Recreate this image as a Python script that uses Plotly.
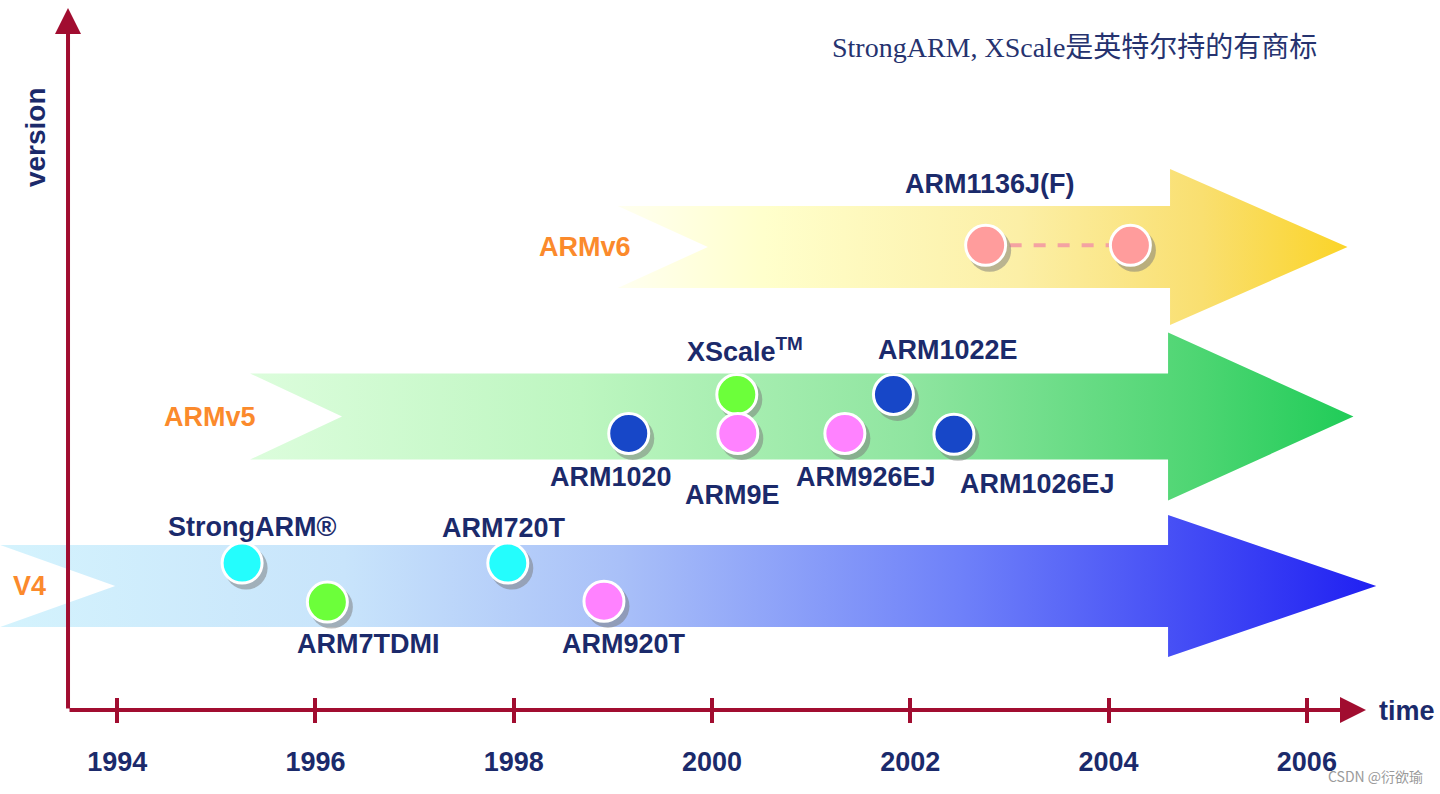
import plotly.graph_objects as go

# ---------------- data ----------------
year_ticks = [1994, 1996, 1998, 2000, 2002, 2004, 2006]
tick_labels = ["1994", "1996", "1998", "2000", "2002", "2004", "2006"]

lane_names = ["V4", "ARMv5", "ARMv6"]
lane_version = [1.0, 2.0, 3.0]
lane_start_year = [1992.82, 1995.34, 1999.05]
lane_body_end_year = [2004.60, 2004.60, 2004.62]
lane_tip_year = [2006.70, 2006.47, 2006.41]

chip_names = ["StrongARM®", "ARM7TDMI", "ARM720T", "ARM920T",
              "ARM1020", "XScale™", "ARM9E", "ARM926EJ", "ARM1022E", "ARM1026EJ",
              "ARM1136J(F)", "ARM1136J(F)"]
chip_year = [1995.26, 1996.12, 1997.94, 1998.91,
             1999.16, 2000.25, 2000.26, 2001.34, 2001.83, 2002.44,
             2002.76, 2004.22]
chip_version = [1.135, 0.905, 1.135, 0.91,
                1.90, 2.13, 1.90, 1.90, 2.13, 1.895,
                3.01, 3.01]
chip_kind = ["cyan", "green", "cyan", "pink",
             "blue", "green", "pink", "pink", "blue", "blue",
             "salmon", "salmon"]

# ---------------- styles ----------------
PX_PER_YEAR = 99.14
PX_PER_VER = 169.5
X_RANGE = [1992.818, 2007.343]
Y_RANGE = [1 + (586 - 794) / PX_PER_VER, 1 + 586 / PX_PER_VER]

NAVY = "#1b2a6b"
AXIS_RED = "#a10d30"
ORANGE = "#fb8a2c"
SANS = "Liberation Sans, Arial, sans-serif"

chip_colors = {"cyan": "#24fdfd", "green": "#6cff3a", "pink": "#ff82ff",
               "blue": "#1747c8", "salmon": "#ff9c9c"}

# arrow geometry (pixels)
shaft_half_px = [41, 43, 41]
head_half_px = [71, 84, 78]
notch_px = [115, 92, 90]
lane_colorscales = [
    [[0, "#d4f3fd"], [0.25, "#c8e4fb"], [0.45, "#a9c0f8"], [0.7, "#6e80f9"], [1, "#2020f2"]],
    [[0, "#dcfddc"], [0.3, "#bdf6c0"], [0.6, "#8fe5a0"], [0.85, "#50d674"], [1, "#20cc58"]],
    [[0, "#fffff0"], [0.2, "#ffffcc"], [0.55, "#fcefa6"], [0.8, "#f9df70"], [1, "#fbd428"]],
]
lane_label_shift = [48, 8, 15]

# label offsets (pixels) per chip
label_shift = [(10, -36), (41, 42), (-4, -35), (20, 43),
               (-18, 44), (8, -44), (-5, 62), (21, 44), (55, -44), (84, 50),
               (4, -61), None]

fig = go.Figure()

# gradient arrows
for i, name in enumerate(lane_names):
    c = lane_version[i]
    h = shaft_half_px[i] / PX_PER_VER
    H = head_half_px[i] / PX_PER_VER
    t = lane_start_year[i]
    s = lane_body_end_year[i]
    p = lane_tip_year[i]
    n = t + notch_px[i] / PX_PER_YEAR
    xs = [t, s, s, p, s, s, t, n, t]
    ys = [c + h, c + h, c + H, c, c - H, c - h, c - h, c, c + h]
    fig.add_trace(go.Scatter(
        x=xs, y=ys, mode="lines", fill="toself",
        fillgradient=dict(type="horizontal", colorscale=lane_colorscales[i]),
        line=dict(width=0), hoverinfo="skip", showlegend=False))
    fig.add_annotation(x=t, y=c, text="<b>" + name + "</b>", showarrow=False,
                       xanchor="right", xshift=lane_label_shift[i],
                       font=dict(family=SANS, size=27, color=ORANGE))

# dashed link between ARM1136 points
idx = [k for k, nm in enumerate(chip_names) if nm == "ARM1136J(F)"]
fig.add_trace(go.Scatter(
    x=[chip_year[k] for k in idx], y=[chip_version[k] for k in idx],
    mode="lines", line=dict(color="#f4a2a2", width=4, dash="dash"),
    hoverinfo="skip", showlegend=False))

# shadows
fig.add_trace(go.Scatter(
    x=[v + 4 / PX_PER_YEAR for v in chip_year],
    y=[v - 5 / PX_PER_VER for v in chip_version],
    mode="markers",
    marker=dict(size=43, color="rgba(120,120,120,0.5)", line=dict(width=0)),
    hoverinfo="skip", showlegend=False))

# chips
fig.add_trace(go.Scatter(
    x=chip_year, y=chip_version, mode="markers",
    marker=dict(size=40, color=[chip_colors[k] for k in chip_kind],
                line=dict(color="white", width=3)),
    text=chip_names, hoverinfo="text", showlegend=False))

for k, nm in enumerate(chip_names):
    if label_shift[k] is None:
        continue
    dx, dy = label_shift[k]
    shown = nm.replace("™", "<sup>TM</sup>")
    fig.add_annotation(x=chip_year[k], y=chip_version[k], text="<b>" + shown + "</b>",
                       showarrow=False, xshift=dx, yshift=-dy,
                       font=dict(family=SANS, size=27, color=NAVY))

# axis lines with arrow heads
x_axis_year = 2000 + (68 - 712) / PX_PER_YEAR
axis_ver = 1 + (586 - 710) / PX_PER_VER
fig.add_annotation(x=2000 + (1366 - 712) / PX_PER_YEAR, y=axis_ver,
                   ax=x_axis_year, ay=axis_ver, axref="x", ayref="y",
                   showarrow=True, arrowhead=2, arrowsize=1.3, arrowwidth=4,
                   arrowcolor=AXIS_RED, text="")
fig.add_annotation(x=x_axis_year, y=1 + (586 - 8) / PX_PER_VER,
                   ax=x_axis_year, ay=axis_ver, axref="x", ayref="y",
                   showarrow=True, arrowhead=2, arrowsize=1.3, arrowwidth=4,
                   arrowcolor=AXIS_RED, text="")

# axis titles
fig.add_annotation(x=x_axis_year, y=1 + (586 - 137) / PX_PER_VER, text="<b>version</b>",
                   textangle=-90, showarrow=False, xshift=-33,
                   font=dict(family=SANS, size=28, color=NAVY))
fig.add_annotation(x=2000 + (1377 - 712) / PX_PER_YEAR, y=axis_ver, text="<b>time</b>",
                   showarrow=False, xanchor="left", yshift=-1,
                   font=dict(family=SANS, size=27, color=NAVY))

# note
fig.add_annotation(xref="paper", yref="paper", x=830 / 1440, y=1 - 45 / 794,
                   xanchor="left", yanchor="middle", showarrow=False,
                   text='<span style="font-family:Liberation Serif, Times New Roman">StrongARM, XScale</span>是英特尔持的有商标',
                   font=dict(family="Noto Sans CJK SC", size=28, color="#26336f"))
fig.add_annotation(xref="paper", yref="paper", x=1375 / 1440, y=1 - 776 / 794,
                   xanchor="center", yanchor="middle", showarrow=False,
                   text="CSDN @衍欲瑜",
                   font=dict(family="Noto Sans CJK SC, Liberation Sans", size=14, color="#9a9a9a"))

axis_pos = (794 - 710) / 794
fig.update_layout(
    width=1440, height=794, margin=dict(l=0, r=0, t=0, b=0),
    paper_bgcolor="white", plot_bgcolor="white", showlegend=False,
    xaxis=dict(range=X_RANGE, anchor="free", position=axis_pos,
               tickvals=year_ticks, ticktext=tick_labels,
               ticks="outside", ticklen=12, tickwidth=4, tickcolor=AXIS_RED,
               ticklabelstandoff=16,
               tickfont=dict(family=SANS, size=27, color=NAVY, weight="bold"),
               showline=False, showgrid=False, zeroline=False, fixedrange=True),
    xaxis2=dict(range=X_RANGE, overlaying="x", matches="x", anchor="free", position=axis_pos,
                side="bottom", tickvals=year_ticks, ticks="inside", ticklen=12,
                tickwidth=4, tickcolor=AXIS_RED, showticklabels=False,
                showline=False, showgrid=False, zeroline=False),
    yaxis=dict(range=Y_RANGE, visible=False, fixedrange=True),
)
# invisible trace to activate xaxis2
fig.add_trace(go.Scatter(x=[year_ticks[0]], y=[Y_RANGE[0]], xaxis="x2", mode="markers",
                         marker=dict(opacity=0), hoverinfo="skip", showlegend=False))

fig.write_html("out.html", config={"displayModeBar": False},
               post_script="document.body.style.margin='0';document.body.style.overflow='hidden';")
